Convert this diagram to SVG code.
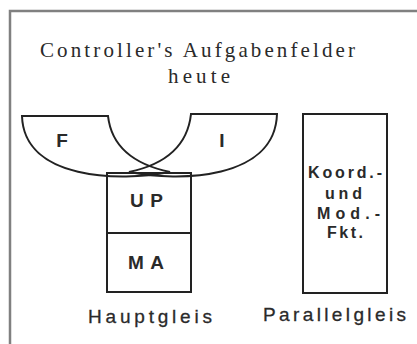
<svg xmlns="http://www.w3.org/2000/svg" width="417" height="344" viewBox="0 0 417 344">
<style>
.frame{fill:none;stroke:#808080;stroke-width:2.5}
.shape{fill:none;stroke:#222;stroke-width:2}
.title{font-family:"Liberation Serif","Times New Roman",serif;font-size:21px;fill:#2a2a2a}
.lbl{font-family:"Liberation Sans",Arial,sans-serif;font-weight:bold;font-size:19px;fill:#2a2a2a}
.small{font-family:"Liberation Sans",Arial,sans-serif;font-weight:bold;font-size:16px;fill:#2a2a2a}
.cap{font-family:"Liberation Sans",Arial,sans-serif;font-size:19px;fill:#2a2a2a;stroke:#2a2a2a;stroke-width:0.3}
</style>
<rect width="417" height="344" fill="#fff"/>
<path class="frame" d="M10,344 V11 H417"/>
<g id="title">
<text class="title" x="40" y="57" textLength="315" lengthAdjust="spacing">Controller's Aufgabenfelder</text>
<text class="title" x="168" y="83" textLength="62" lengthAdjust="spacing">heute</text>
</g>
<g id="F">
<path class="shape" d="M22,116 L108,116 Q113,160 170,172 C120,182 24,180 22,116 Z"/>
<text class="lbl" x="62" y="147" text-anchor="middle">F</text>
</g>
<g id="I">
<path class="shape" d="M277,114 L191,114 Q186,160 129,172 C179,182 275,180 277,114 Z"/>
<text class="lbl" x="222" y="147" text-anchor="middle">I</text>
</g>
<g id="UP">
<rect class="shape" x="107" y="173" width="84" height="60"/>
<text class="lbl" x="130" y="207" textLength="33" lengthAdjust="spacing">UP</text>
</g>
<g id="MA">
<rect class="shape" x="107" y="233" width="84" height="59"/>
<text class="lbl" x="128" y="269" textLength="36" lengthAdjust="spacing">MA</text>
</g>
<g id="Koord">
<rect class="shape" x="303" y="114" width="84" height="179"/>
<text class="small" x="308" y="178" textLength="74" lengthAdjust="spacing">Koord.-</text>
<text class="small" x="325" y="199" textLength="37" lengthAdjust="spacing">und</text>
<text class="small" x="317" y="219" textLength="63" lengthAdjust="spacing">Mod.-</text>
<text class="small" x="327" y="238" textLength="36" lengthAdjust="spacing">Fkt.</text>
</g>
<g id="labels">
<text class="cap" x="88" y="323" textLength="124" lengthAdjust="spacing">Hauptgleis</text>
<text class="cap" x="263" y="321" textLength="143" lengthAdjust="spacing">Parallelgleis</text>
</g>
<g id="connectors"></g>
</svg>
